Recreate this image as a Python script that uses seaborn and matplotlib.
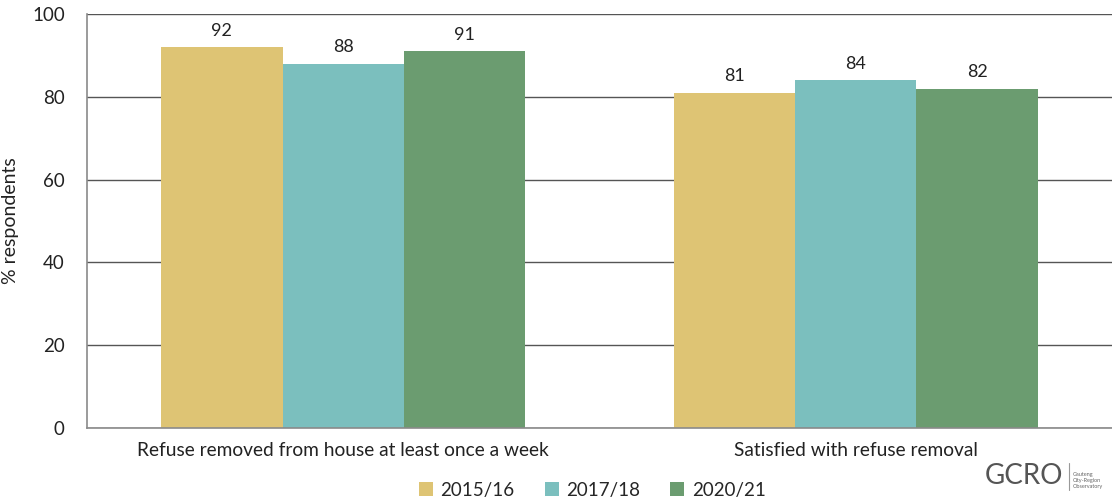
import pandas as pd
import matplotlib.pyplot as plt
import seaborn as sns

# chart data
categories = ["Refuse removed from house at least once a week", "Satisfied with refuse removal"]
years = ["2015/16", "2017/18", "2020/21"]
values_2015 = [92, 81]
values_2017 = [88, 84]
values_2020 = [91, 82]
colours = ["#DEC474", "#7BBFBE", "#6B9C70"]

rows = []
for year, vals in zip(years, [values_2015, values_2017, values_2020]):
    for cat, v in zip(categories, vals):
        rows.append({"category": cat, "year": year, "value": v})
df = pd.DataFrame(rows)

sns.set_style("white")
plt.rcParams['font.family'] = ['Lato', 'DejaVu Sans']

fig = plt.figure(figsize=(11.12, 5.0), dpi=100)
ax = fig.add_axes([0.0782, 0.144, 0.9218, 0.828])

sns.barplot(data=df, x="category", y="value", hue="year", palette=colours,
            width=0.71, saturation=1, linewidth=0, ax=ax, legend=True)

for c in ax.containers:
    ax.bar_label(c, fmt="%d", padding=6, fontsize=13, color="#222222")

ax.set_ylim(0, 100)
ax.set_yticks([0, 20, 40, 60, 80, 100])
ax.set_axisbelow(True)
ax.yaxis.grid(True, color="#555555", linewidth=1)
ax.tick_params(axis="y", length=0, pad=16, labelsize=13.5, labelcolor="#222222")
ax.tick_params(axis="x", length=0, pad=10, labelsize=13.8, labelcolor="#222222")
ax.set_xlabel("")
ax.set_ylabel("% respondents", fontsize=14, color="#222222")
ax.yaxis.set_label_coords(-0.066, 0.5)

for side in ["top", "right"]:
    ax.spines[side].set_visible(False)
for side in ["left", "bottom"]:
    ax.spines[side].set_color("#8a8a8a")
    ax.spines[side].set_linewidth(1.2)

ax.legend(loc="center", bbox_to_anchor=(0.493, -0.15), ncol=3, frameon=False,
          fontsize=13.5, handlelength=0.75, handleheight=0.75, handletextpad=0.4,
          columnspacing=1.6, borderpad=0)

# logo text
fig.text(0.956, 0.022, "GCRO", fontsize=20, color="#555555", ha="right", va="bottom")
fig.add_artist(plt.Line2D([0.961, 0.961], [0.02, 0.075], color="#999999", linewidth=0.8))
fig.text(0.965, 0.022, "Gauteng\nCity-Region\nObservatory", fontsize=4, color="#666666",
         ha="left", va="bottom")

fig.savefig("out.png", dpi=100)
